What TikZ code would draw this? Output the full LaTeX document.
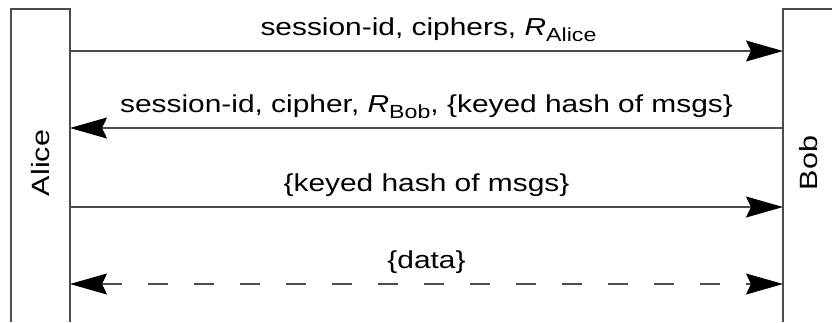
\documentclass[tikz,border=0pt]{standalone}
\usepackage{fontspec}
\setmainfont{Liberation Sans}[FakeStretch=1.22]
\usetikzlibrary{arrows.meta,calc}
\newcommand{\subtxt}[1]{\raisebox{-6pt}{\fontsize{19}{19}\selectfont #1}}
\begin{document}
\begin{tikzpicture}[x=1pt,y=-1pt,
  life/.style={draw=black!70, line width=1.3pt},
  msg/.style={draw=black!70, line width=1.5pt, -{Stealth[length=37pt,width=21pt,inset=5pt,color=black]}},
  msgleft/.style={draw=black!70, line width=1.5pt, {Stealth[length=37pt,width=21pt,inset=5pt,color=black]}-},
  msgboth/.style={draw=black!70, line width=1.5pt, dash pattern=on 20pt off 26pt,
    {Stealth[length=37pt,width=21pt,inset=5pt,color=black]}-{Stealth[length=37pt,width=21pt,inset=5pt,color=black]}},
  lbl/.style={anchor=base, font=\fontsize{24.5}{30}\selectfont, inner sep=0pt, text=black},
  actor/.style={rotate=90, font=\fontsize{25}{30}\selectfont, inner sep=0pt, text=black}]
\useasboundingbox (0,0) rectangle (832,322);
% lifeline boxes
\draw[life] (11,322) -- (11,9) -- (70,9) -- (70,322);
\draw[life] (832,9) -- (783,9) -- (783,322);
\node[actor] (alice) at (41,163) {Alice};
\node[actor] (bob) at (809,163) {Bob};
% anchor points on the lifelines
\coordinate (a1) at (70,51);  \coordinate (b1) at (783,51);
\coordinate (a2) at (70,128); \coordinate (b2) at (783,128);
\coordinate (a3) at (70,207); \coordinate (b3) at (783,207);
\coordinate (a4) at (70,284); \coordinate (b4) at (783,284);
% messages
\draw[msg] (a1) -- (b1);
\draw[msgleft] (a2) -- (b2);
\draw[msg] (a3) -- (b3);
\draw[msgboth] (a4) -- (b4);
% labels
\node[lbl] (l1) at ($(a1)!0.5!(b1)+(2,-16)$) {session-id, ciphers, \textit{R}\subtxt{Alice}};
\node[lbl] (l2) at ($(a2)!0.5!(b2)+(0,-16)$) {session-id, cipher, \textit{R}\subtxt{Bob}, \{keyed hash of msgs\}};
\node[lbl] (l3) at ($(a3)!0.5!(b3)+(0,-16)$) {\{keyed hash of msgs\}};
\node[lbl] (l4) at ($(a4)!0.5!(b4)+(0,-16)$) {\{data\}};
\end{tikzpicture}
\end{document}
